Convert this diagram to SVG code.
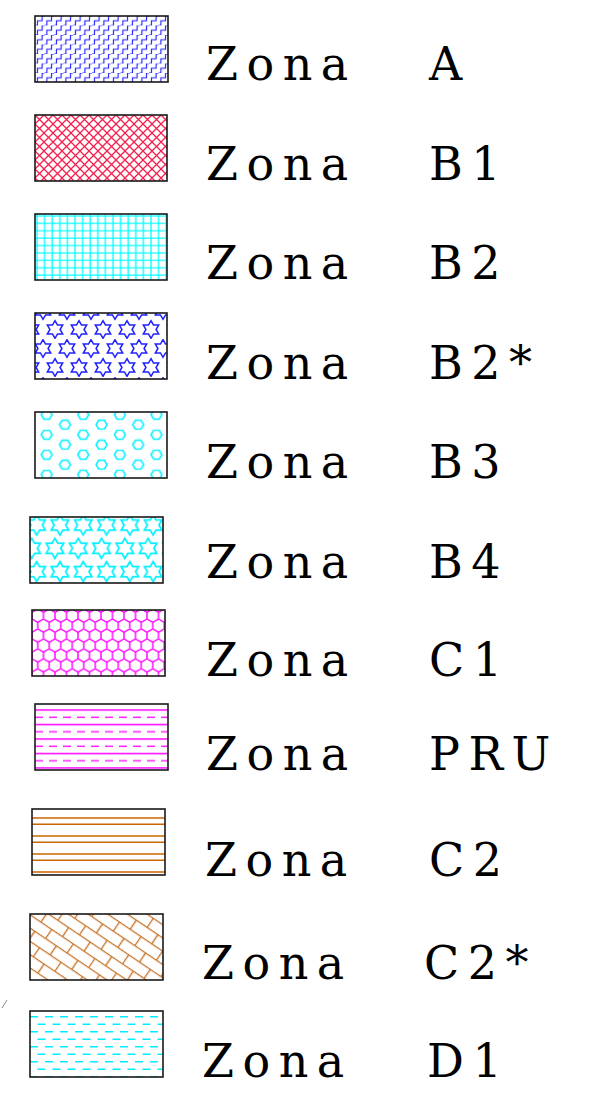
<svg xmlns="http://www.w3.org/2000/svg" xmlns:xlink="http://www.w3.org/1999/xlink" width="604" height="1102" viewBox="0 0 604 1102">
<style>
.box{fill:none;stroke:#1a1a1a;stroke-width:1.6}
.lbl{font-family:"DejaVu Serif","Liberation Serif",serif;font-size:46px;letter-spacing:8.5px;fill:#000}
</style>
<defs>
<path id="star" d="M0,-8 L2.31,-4 L6.93,-4 L4.62,0 L6.93,4 L2.31,4 L0,8 L-2.31,4 L-6.93,4 L-4.62,0 L-6.93,-4 L-2.31,-4 Z"/>
<path id="hex" d="M-5.5,0 L-2.75,-4.5 L2.75,-4.5 L5.5,0 L2.75,4.5 L-2.75,4.5 Z"/>
<pattern id="pA" patternUnits="userSpaceOnUse" x="35" y="16" width="9.5" height="9.5">
<path d="M0,9.5 H2.4 V4.75 H7.1 V0 H9.5" fill="none" stroke="#1515ff" stroke-width="1.1"/>
</pattern>
<pattern id="pB1" patternUnits="userSpaceOnUse" x="35" y="115" width="9" height="9">
<path d="M0,0 L9,9 M9,0 L0,9" fill="none" stroke="#f5204f" stroke-width="1.3"/>
</pattern>
<pattern id="pB2" patternUnits="userSpaceOnUse" x="35" y="214" width="7.6" height="7.4">
<path d="M2,0 V7.4 M0,2 H7.6" fill="none" stroke="#00ffff" stroke-width="1.3"/>
</pattern>
<pattern id="pB2s" patternUnits="userSpaceOnUse" x="31" y="301" width="24" height="38">
<g fill="none" stroke="#2020ff" stroke-width="1.4">
<use xlink:href="#star" transform="translate(12,9.5) scale(1.1)"/>
<use xlink:href="#star" transform="translate(0,28.5) scale(1.1)"/>
<use xlink:href="#star" transform="translate(24,28.5) scale(1.1)"/>
</g>
</pattern>
<pattern id="pB3" patternUnits="userSpaceOnUse" x="38.7" y="429.7" width="36.6" height="20">
<g fill="none" stroke="#00f0ff" stroke-width="1.5">
<use xlink:href="#hex" transform="translate(8,5)"/>
<use xlink:href="#hex" transform="translate(26.3,15)"/>
</g>
</pattern>
<pattern id="pB4" patternUnits="userSpaceOnUse" x="25" y="513.4" width="23.3" height="46.6">
<g fill="none" stroke="#00f0ff" stroke-width="1.4">
<use xlink:href="#star" transform="translate(11.65,11.65) scale(1.25)"/>
<use xlink:href="#star" transform="translate(6.65,34.95) scale(1.25)"/>
<use xlink:href="#star" transform="translate(29.95,34.95) scale(1.25)"/>
</g>
</pattern>
<pattern id="pC1" patternUnits="userSpaceOnUse" x="32" y="609" width="11.5" height="19.9">
<path d="M0,3.32 L5.75,0 L11.5,3.32 M0,3.32 V9.95 L5.75,13.27 L11.5,9.95 V3.32 M5.75,13.27 V19.9" fill="none" stroke="#ff00ff" stroke-width="1.4"/>
</pattern>
<pattern id="pPRU" patternUnits="userSpaceOnUse" x="35" y="709.25" width="14" height="14.5">
<path d="M0,0.75 H14" stroke="#ff00ff" stroke-width="1.5"/>
<path d="M0,8.05 H8" stroke="#ff22ff" stroke-width="1.5"/>
</pattern>
<pattern id="pC2" patternUnits="userSpaceOnUse" x="32" y="817" width="20" height="18">
<path d="M0,1 H20 M0,7.3 H20" stroke="#cc6600" stroke-width="1.4"/>
</pattern>
<pattern id="pC2s" patternUnits="userSpaceOnUse" x="30" y="914" width="26" height="22" patternTransform="rotate(34 30 914)">
<path d="M0,0.6 H26 M0,11.6 H26 M0.6,0.6 V11.6 M13.6,11.6 V22" fill="none" stroke="#c8742a" stroke-width="1.4"/>
</pattern>
<pattern id="pD1" patternUnits="userSpaceOnUse" x="30" y="1016" width="15" height="15">
<path d="M0,0.75 H8 M7.5,8.25 H15 M0,8.25 H0.5" stroke="#00ecff" stroke-width="1.5"/>
</pattern>
</defs>

<g id="zona-A">
<rect x="35" y="16" width="133" height="66" fill="url(#pA)"/>
<rect class="box" x="35" y="16" width="133" height="66"/>
<text class="lbl" x="206" y="80">Zona</text>
<text class="lbl" x="429" y="80">A</text>
</g>
<g id="zona-B1">
<rect x="35" y="115" width="132" height="66" fill="url(#pB1)"/>
<rect class="box" x="35" y="115" width="132" height="66"/>
<text class="lbl" x="206" y="180">Zona</text>
<text class="lbl" x="429" y="180">B1</text>
</g>
<g id="zona-B2">
<rect x="35" y="214" width="132" height="66" fill="url(#pB2)"/>
<rect class="box" x="35" y="214" width="132" height="66"/>
<text class="lbl" x="206" y="279">Zona</text>
<text class="lbl" x="429" y="279">B2</text>
</g>
<g id="zona-B2star">
<rect x="35" y="313" width="132" height="66" fill="url(#pB2s)"/>
<rect class="box" x="35" y="313" width="132" height="66"/>
<text class="lbl" x="206" y="379">Zona</text>
<text class="lbl" x="429" y="379">B2*</text>
</g>
<g id="zona-B3">
<rect x="35" y="412" width="132" height="66" fill="url(#pB3)"/>
<rect class="box" x="35" y="412" width="132" height="66"/>
<text class="lbl" x="206" y="478">Zona</text>
<text class="lbl" x="429" y="478">B3</text>
</g>
<g id="zona-B4">
<rect x="30" y="517" width="133" height="66" fill="url(#pB4)"/>
<rect class="box" x="30" y="517" width="133" height="66"/>
<text class="lbl" x="206" y="578">Zona</text>
<text class="lbl" x="429" y="578">B4</text>
</g>
<g id="zona-C1">
<rect x="32" y="610" width="133" height="66" fill="url(#pC1)"/>
<rect class="box" x="32" y="610" width="133" height="66"/>
<text class="lbl" x="206" y="676">Zona</text>
<text class="lbl" x="429" y="676">C1</text>
</g>
<g id="zona-PRU">
<rect x="35" y="704" width="133" height="66" fill="url(#pPRU)"/>
<rect class="box" x="35" y="704" width="133" height="66"/>
<text class="lbl" x="206" y="770">Zona</text>
<text class="lbl" x="429" y="770">PRU</text>
</g>
<g id="zona-C2">
<rect x="32" y="809" width="133" height="66" fill="url(#pC2)"/>
<rect class="box" x="32" y="809" width="133" height="66"/>
<text class="lbl" x="205" y="876">Zona</text>
<text class="lbl" x="429" y="876">C2</text>
</g>
<g id="zona-C2star">
<rect x="30" y="914" width="133" height="66" fill="url(#pC2s)"/>
<rect class="box" x="30" y="914" width="133" height="66"/>
<text class="lbl" x="202" y="979">Zona</text>
<text class="lbl" x="424" y="979">C2*</text>
</g>
<g id="zona-D1">
<rect x="30" y="1011" width="133" height="66" fill="url(#pD1)"/>
<rect class="box" x="30" y="1011" width="133" height="66"/>
<text class="lbl" x="202" y="1077">Zona</text>
<text class="lbl" x="427" y="1077">D1</text>
</g>
<g id="mark">
<path d="M2,1008 L7,1000" stroke="#888" stroke-width="1"/>
</g>
</svg>
